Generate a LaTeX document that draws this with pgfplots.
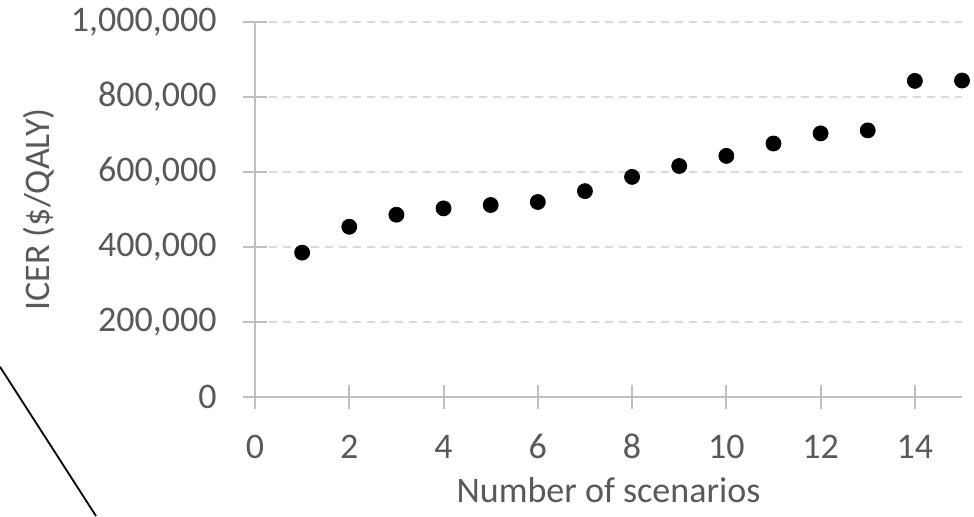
\documentclass[border=0pt]{standalone}
\usepackage{fontspec}
\setmainfont{Carlito}
\usepackage{pgfplots}
\pgfplotsset{compat=1.18}
\definecolor{ticktxt}{HTML}{595959}
\definecolor{axisgray}{HTML}{BFBFBF}
\definecolor{gridgray}{HTML}{D9D9D9}
\begin{document}
\fontsize{18}{21}\selectfont
\begin{tikzpicture}
\useasboundingbox (0,0) rectangle (487pt,258pt);
\draw[black, line width=0.9pt] (0,74.6pt) -- (48pt,0);
\begin{axis}[
  at={(127.5pt,59.5pt)}, anchor=south west,
  scale only axis, width=353.5pt, height=187.5pt,
  xmin=0, xmax=15, ymin=0, ymax=1000000,
  axis lines*=left,
  axis line style={axisgray, line width=1pt},
  xtick={0,2,...,14}, ytick={0,200000,...,1000000},
  tick align=center, major tick length=12pt,
  tick style={axisgray, line width=1pt},
  ymajorgrids, grid style={gridgray, line width=1pt, dash pattern=on 4pt off 3pt},
  scaled y ticks=false,
  /pgf/number format/.cd, fixed, 1000 sep={,}, assume math mode=true,
  /pgfplots/.cd,
  ticklabel style={font=\fontsize{18}{21}\selectfont, text=ticktxt},
  yticklabel style={inner sep=0pt, xshift=-13pt},
  xticklabel style={inner sep=0pt, yshift=-13pt, text height=11.4pt, text depth=0pt},
  xlabel={Number of scenarios}, ylabel={ICER (\$/QALY)},
  label style={font=\fontsize{18}{21}\selectfont, text=ticktxt},
  xlabel style={at={(rel axis cs:0.5,-0.28)}, anchor=base, inner sep=0pt},
  ylabel style={at={(rel axis cs:-0.29,0.5)}, anchor=base, inner sep=0pt, rotate=0},
  clip=false,
]
\addplot[only marks, mark=*, mark size=3.75pt, mark options={fill=black, draw=black}] coordinates {
 (1,385000) (2,454000) (3,486000) (4,503000) (5,512000) (6,520000) (7,549000)
 (8,587000) (9,616000) (10,643000) (11,676000) (12,703000) (13,711000)
 (14,843000) (15,844000)
};
\end{axis}
\end{tikzpicture}
\end{document}
